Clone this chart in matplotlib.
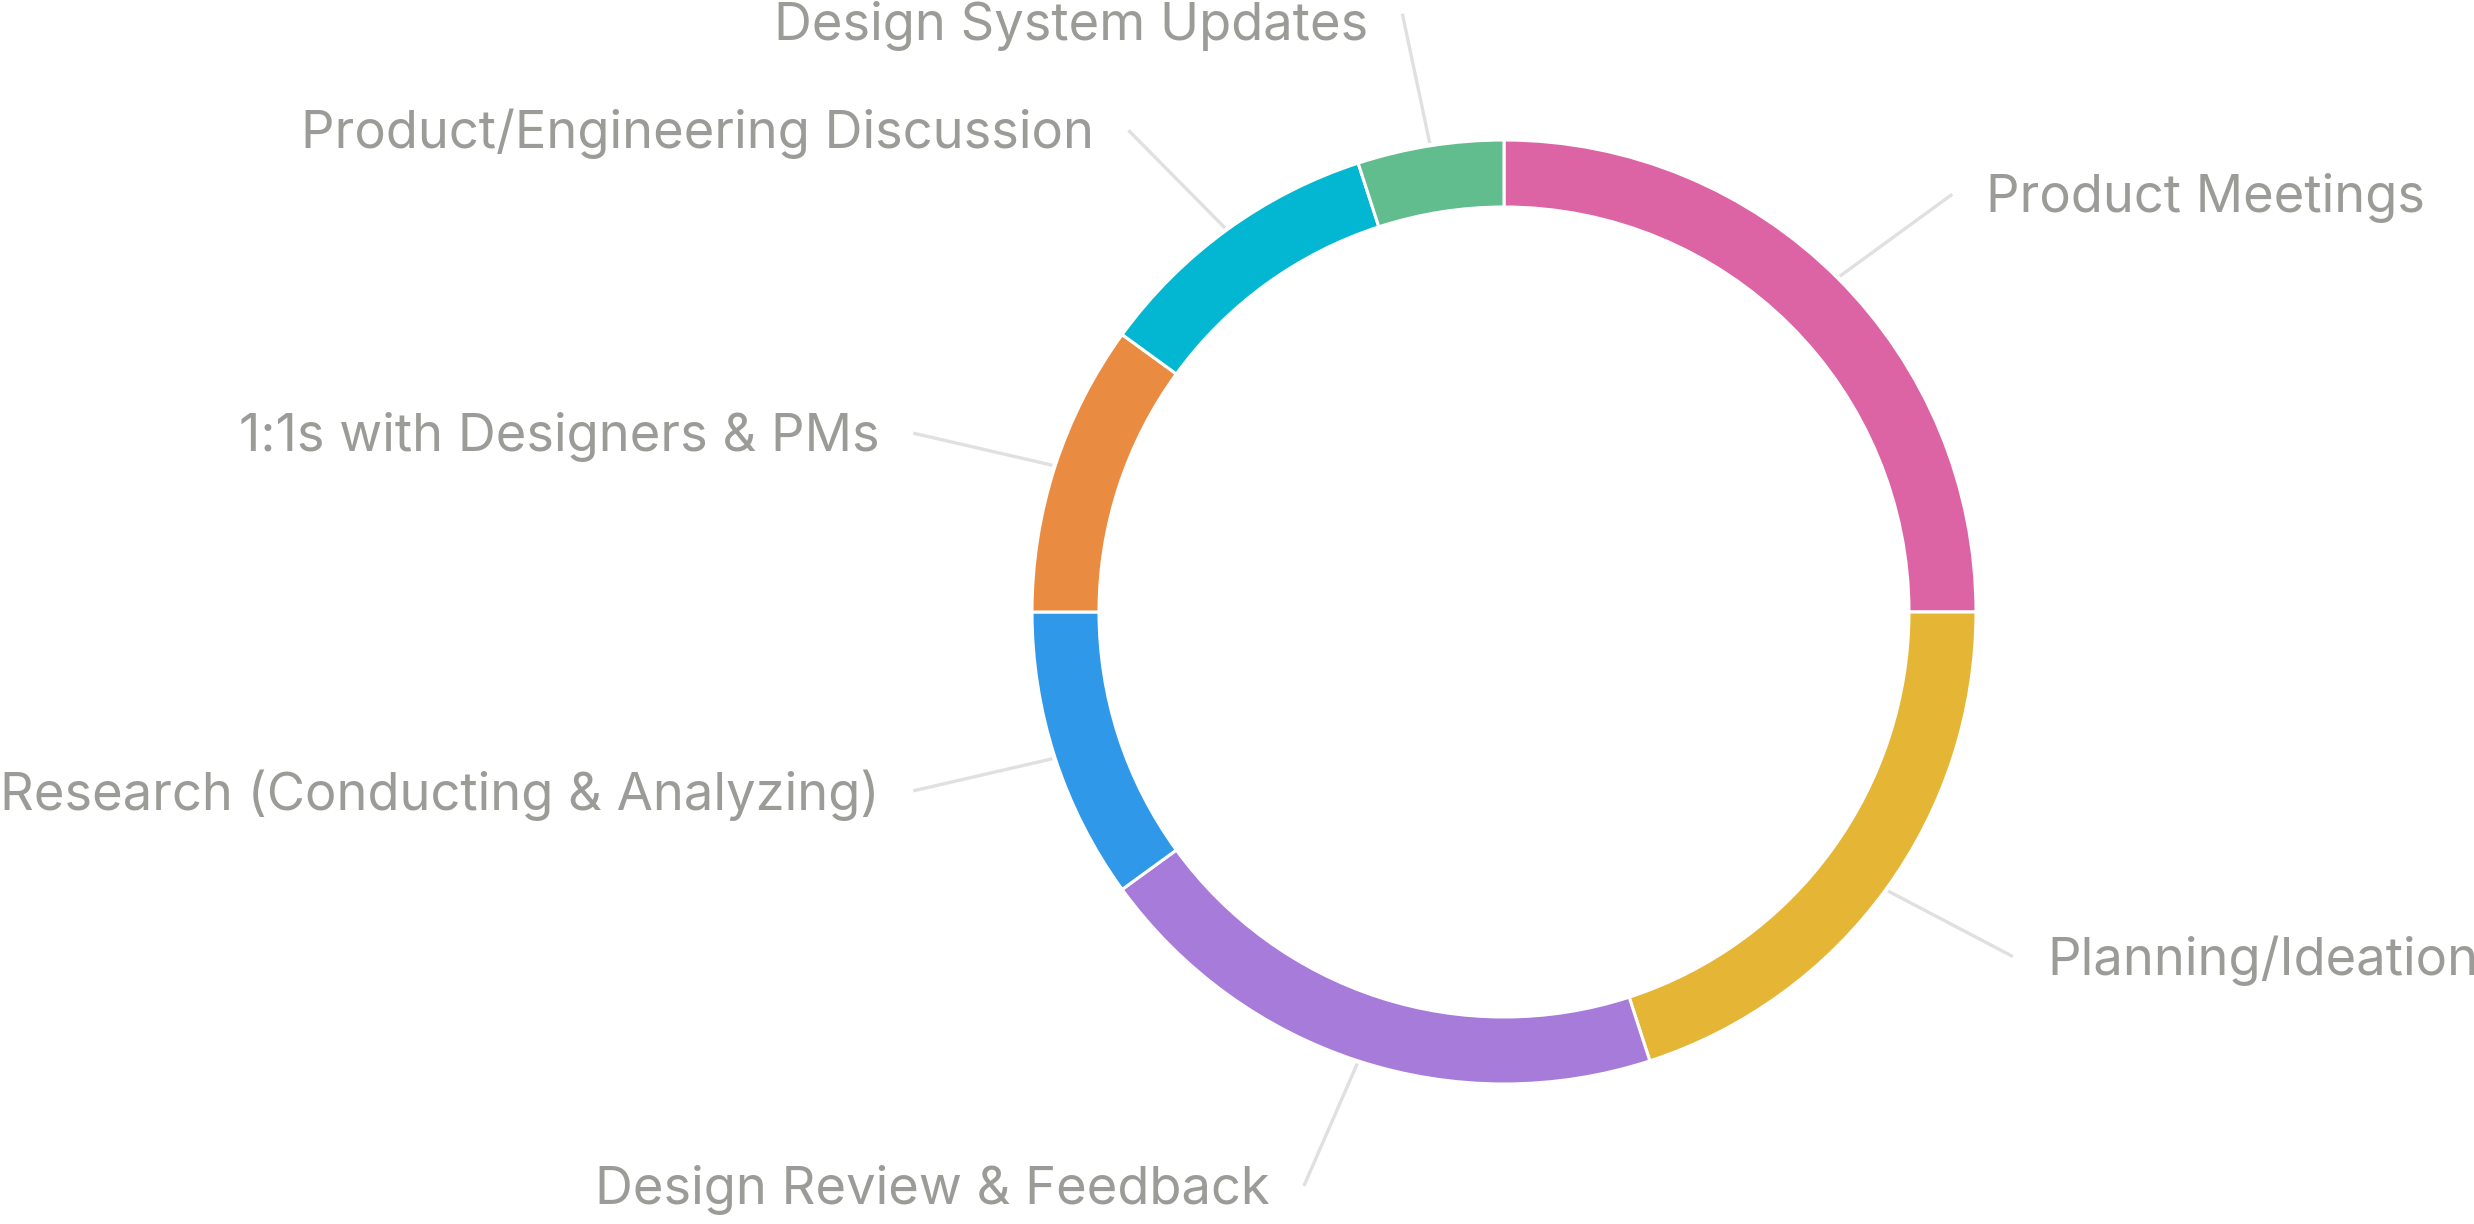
import numpy as np
import matplotlib
matplotlib.use("Agg")
import matplotlib.pyplot as plt

# share of time per activity (percent), clockwise from 12 o'clock
categories = ["Product Meetings", "Planning/Ideation", "Design Review & Feedback",
              "Research (Conducting & Analyzing)", "1:1s with Designers & PMs",
              "Product/Engineering Discussion", "Design System Updates"]
values = [25, 20, 20, 10, 10, 10, 5]
colors = ["#DD64A4", "#E5B535", "#A67BD9", "#2F98E9", "#E98C42", "#03B6D1", "#61BD8D"]

plt.rcParams['font.family'] = ['Inter', 'DejaVu Sans']

W, H = 2474, 1224
fig = plt.figure(figsize=(W / 100, H / 100), dpi=100)
ax = fig.add_axes([0, 0, 1, 1])

cx, cy = 1504, 612
R = 472
wedges, _ = ax.pie(values, colors=colors, startangle=90, counterclock=False,
                   center=(cx, cy), radius=R, frame=True,
                   wedgeprops=dict(width=67, edgecolor='white', linewidth=2.2))
ax.set_xlim(0, W)
ax.set_ylim(0, H)
ax.set_aspect('equal')
ax.axis('off')

# leader lines and labels
for w, label in zip(wedges, categories):
    ang = np.deg2rad((w.theta1 + w.theta2) / 2)
    ca, sa = np.cos(ang), np.sin(ang)
    # label end slightly flattened toward the horizontal
    end = np.arctan2(0.95 * sa, ca)
    r0 = R * 1.006
    x0, y0 = cx + r0 * ca, cy + r0 * sa
    x1, y1 = cx + R * 1.31 * np.cos(end), cy + R * 1.285 * np.sin(end)
    ax.plot([x0, x1], [y0, y1], color='#E0E0E0', lw=2.4, solid_capstyle='butt')
    # keep text inside the canvas
    ty = min(y1 - 4, H - 26)
    ty = max(ty, 26)
    if ca >= 0:
        ax.text(x1 + 34, ty, label, ha='left', va='center', fontsize=37.8, color='#9B9B97')
    else:
        ax.text(x1 - 34, ty, label, ha='right', va='center', fontsize=37.8, color='#9B9B97')

fig.savefig('out.png', dpi=100, facecolor='white')
